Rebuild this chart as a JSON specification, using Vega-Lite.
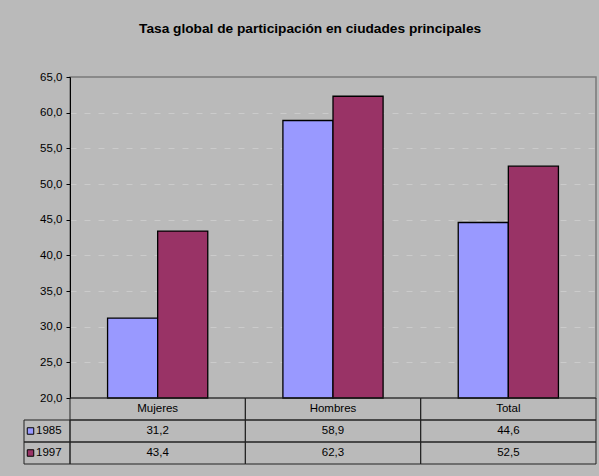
{
  "$schema": "https://vega.github.io/schema/vega-lite/v6.json",
  "background": "#BABABA",
  "padding": {"left": 23, "top": 21, "right": 4, "bottom": 13},
  "title": {
    "text": "Tasa global de participación en ciudades principales",
    "fontSize": 13.7,
    "fontWeight": "bold",
    "color": "black",
    "font": "Liberation Sans",
    "anchor": "middle",
    "offset": 35
  },
  "datasets": {
    "t": [
      {"cat": "Mujeres", "year": "1985", "value": 31.2},
      {"cat": "Hombres", "year": "1985", "value": 58.9},
      {"cat": "Total", "year": "1985", "value": 44.6},
      {"cat": "Mujeres", "year": "1997", "value": 43.4},
      {"cat": "Hombres", "year": "1997", "value": 62.3},
      {"cat": "Total", "year": "1997", "value": 52.5}
    ]
  },
  "columns": 2,
  "spacing": 0,
  "bounds": "flush",
  "concat": [
    {
      "width": 46,
      "height": 321,
      "data": {"values": [{}]},
      "mark": {"type": "point", "opacity": 0},
      "encoding": {}
    },
    {
      "width": 526,
      "height": 321,
      "data": {"name": "t"},
      "view": {"stroke": "#7a7a7a", "strokeWidth": 1.5},
      "mark": {"type": "bar", "stroke": "black", "strokeWidth": 1.3},
      "encoding": {
        "x": {
          "field": "cat", "type": "nominal",
          "scale": {"domain": ["Mujeres", "Hombres", "Total"], "paddingInner": 0, "paddingOuter": 0},
          "axis": null
        },
        "xOffset": {
          "field": "year", "type": "nominal",
          "scale": {"domain": ["1985", "1997"], "paddingInner": 0, "paddingOuter": 0.75}
        },
        "y": {
          "field": "value", "type": "quantitative",
          "scale": {"domain": [20, 65], "nice": false, "zero": false},
          "axis": {
            "title": null,
            "values": [20, 25, 30, 35, 40, 45, 50, 55, 60, 65],
            "format": ".1f",
            "labelFontSize": 11.5,
            "labelColor": "black",
            "labelFont": "Liberation Sans",
            "tickColor": "black",
            "tickSize": 4,
            "labelPadding": 4,
            "domainColor": "black",
            "grid": true,
            "gridColor": "#cbcbcb",
            "gridDash": [6, 8],
            "gridOpacity": {"condition": {"test": "datum.value <= 20 || datum.value >= 65", "value": 0}, "value": 1}
          }
        },
        "y2": {"datum": 20},
        "color": {
          "field": "year", "type": "nominal",
          "scale": {"domain": ["1985", "1997"], "range": ["#9999FF", "#993366"]},
          "legend": null
        }
      }
    },
    {
      "width": 46,
      "height": 66,
      "data": {"name": "t"},
      "transform": [{"filter": "datum.cat == 'Mujeres'"}],
      "encoding": {
        "y": {
          "field": "year", "type": "nominal",
          "scale": {"domain": ["cat", "1985", "1997"], "paddingInner": 0, "paddingOuter": 0},
          "axis": null
        }
      },
      "layer": [
        {"mark": {"type": "rect", "fill": "transparent", "stroke": "#222222", "strokeWidth": 1}},
        {
          "mark": {"type": "point", "shape": "square", "filled": true, "size": 42, "stroke": "black", "strokeWidth": 1, "opacity": 1, "xOffset": -16.5},
          "encoding": {
            "color": {
              "field": "year", "type": "nominal",
              "scale": {"domain": ["1985", "1997"], "range": ["#9999FF", "#993366"]},
              "legend": null
            }
          }
        },
        {
          "mark": {"type": "text", "align": "left", "baseline": "middle", "dx": -11, "fontSize": 11.5, "font": "Liberation Sans", "color": "black"},
          "encoding": {"text": {"field": "year"}}
        }
      ]
    },
    {
      "width": 526,
      "height": 66,
      "data": {"name": "t"},
      "encoding": {
        "x": {
          "field": "cat", "type": "nominal",
          "scale": {"domain": ["Mujeres", "Hombres", "Total"], "paddingInner": 0, "paddingOuter": 0},
          "axis": null
        }
      },
      "layer": [
        {
          "mark": {"type": "rect", "fill": "transparent", "stroke": "#222222", "strokeWidth": 1},
          "encoding": {
            "y": {
              "field": "year", "type": "nominal",
              "scale": {"domain": ["cat", "1985", "1997"], "paddingInner": 0, "paddingOuter": 0},
              "axis": null
            }
          }
        },
        {
          "transform": [{"filter": "datum.year == '1985'"}],
          "mark": {"type": "rect", "fill": "transparent", "stroke": "#222222", "strokeWidth": 1},
          "encoding": {
            "y": {"datum": "cat", "type": "nominal", "scale": {"domain": ["cat", "1985", "1997"], "paddingInner": 0, "paddingOuter": 0}, "axis": null}
          }
        },
        {
          "mark": {"type": "text", "baseline": "middle", "fontSize": 11.5, "font": "Liberation Sans", "color": "black"},
          "encoding": {
            "y": {"field": "year", "type": "nominal", "scale": {"domain": ["cat", "1985", "1997"], "paddingInner": 0, "paddingOuter": 0}, "axis": null},
            "text": {"field": "value", "type": "quantitative", "format": ".1f"}
          }
        },
        {
          "transform": [{"filter": "datum.year == '1985'"}],
          "mark": {"type": "text", "baseline": "middle", "fontSize": 11.5, "font": "Liberation Sans", "color": "black"},
          "encoding": {
            "y": {"datum": "cat", "type": "nominal", "scale": {"domain": ["cat", "1985", "1997"], "paddingInner": 0, "paddingOuter": 0}, "axis": null},
            "text": {"field": "cat", "type": "nominal"}
          }
        }
      ]
    }
  ],
  "config": {
    "font": "Liberation Sans",
    "view": {"stroke": null},
    "locale": {
      "number": {"decimal": ",", "thousands": ".", "grouping": [3], "currency": ["", ""]}
    }
  }
}
